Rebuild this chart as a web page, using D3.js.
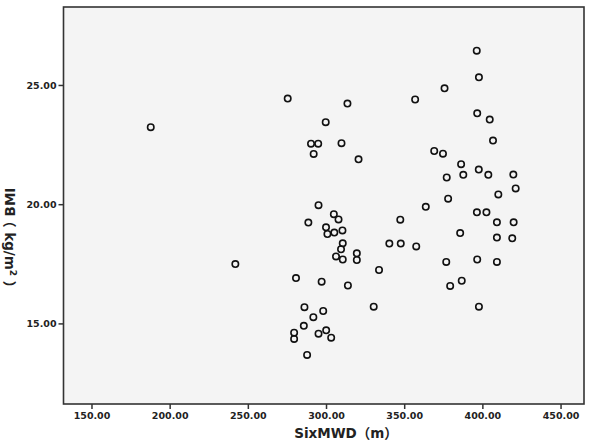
<!DOCTYPE html>
<html lang="en">
<head>
<meta charset="UTF-8">
<title>BMI vs SixMWD</title>
<script src="https://d3js.org/d3.v7.min.js"></script>
<style>
  body { margin: 0; background: #fff; }
  .tick text { font: bold 9.5px "DejaVu Sans", sans-serif; fill: #222; }
  .axis-title { font: bold 13.5px "DejaVu Sans", "Noto Sans CJK SC", sans-serif; fill: #222; }
</style>
</head>
<body>
<svg id="chart" width="602" height="446"></svg>
<script>
// values
var sixMWD = [187.9, 275.5, 313.7, 299.8, 290.4, 295.0, 292.1, 309.9, 396.4, 397.8,
              375.8, 357.0, 396.7, 404.7, 406.8, 320.8, 369.2, 374.8, 386.4, 397.7,
              377.2, 387.8, 403.8, 419.8, 421.3, 410.2, 378.1, 363.8, 347.5, 396.5,
              402.6, 409.3, 420.0, 385.8, 409.3, 419.1, 340.5, 347.8, 357.7, 295.2,
              288.7, 305.0, 308.0, 300.0, 300.9, 305.3, 310.5, 310.7, 309.6, 306.4,
              310.7, 319.7, 319.7, 333.9, 376.9, 396.7, 409.3, 242.0, 280.8, 297.2,
              314.0, 386.8, 379.4, 330.5, 397.8, 286.2, 298.2, 291.9, 285.8, 279.6,
              279.6, 295.2, 300.1, 303.3, 287.9];
var bmi = [23.23, 24.43, 24.22, 23.44, 22.54, 22.54, 22.11, 22.56, 26.44, 25.32,
           24.86, 24.39, 23.81, 23.55, 22.67, 21.88, 22.23, 22.12, 21.68, 21.45,
           21.12, 21.23, 21.23, 21.24, 20.66, 20.41, 20.23, 19.89, 19.35, 19.66,
           19.66, 19.24, 19.24, 18.79, 18.60, 18.57, 18.35, 18.35, 18.23, 19.96,
           19.23, 19.58, 19.36, 19.03, 18.75, 18.81, 18.90, 18.36, 18.11, 17.81,
           17.68, 17.94, 17.66, 17.24, 17.58, 17.68, 17.58, 17.49, 16.90, 16.75,
           16.59, 16.79, 16.57, 15.70, 15.70, 15.68, 15.52, 15.26, 14.90, 14.61,
           14.35, 14.57, 14.71, 14.40, 13.68];
var xTicks = [150, 200, 250, 300, 350, 400, 450];
var yTicks = [15, 20, 25];

var svg = d3.select("#chart");

var x = d3.scaleLinear().domain([132.1, 465.0]).range([63.5, 584]);
var y = d3.scaleLinear().domain([11.62, 28.27]).range([404, 7]);

// plot background + frame
svg.append("rect")
    .attr("x", x.range()[0]).attr("y", y.range()[1])
    .attr("width", x.range()[1] - x.range()[0])
    .attr("height", y.range()[0] - y.range()[1])
    .attr("fill", "#f4f4f4")
    .attr("stroke", "#333")
    .attr("stroke-width", 1.6);

var xAxis = svg.append("g")
    .attr("transform", "translate(0," + y.range()[0] + ")")
    .call(d3.axisBottom(x).tickValues(xTicks).tickFormat(d3.format(".2f")).tickSizeInner(5).tickSizeOuter(0));

var yAxis = svg.append("g")
    .attr("transform", "translate(" + x.range()[0] + ",0)")
    .call(d3.axisLeft(y).tickValues(yTicks).tickFormat(d3.format(".2f")).tickSizeInner(5).tickSizeOuter(0));

[xAxis, yAxis].forEach(function(a) {
    a.select(".domain").remove();
    a.selectAll(".tick line").attr("stroke", "#333").attr("stroke-width", 1.5);
});
yAxis.selectAll(".tick text").attr("x", -7);

// points
svg.append("g").selectAll("circle")
    .data(d3.range(sixMWD.length))
    .enter().append("circle")
    .attr("cx", function(i) { return x(sixMWD[i]); })
    .attr("cy", function(i) { return y(bmi[i]); })
    .attr("r", 3.2)
    .attr("fill", "none")
    .attr("stroke", "#111")
    .attr("stroke-width", 1.6);

// axis titles
svg.append("text")
    .attr("class", "axis-title")
    .attr("x", 346).attr("y", 438)
    .attr("text-anchor", "middle")
    .text("SixMWD（m）");

// y title: "BMI" is turned the other way round in the original
svg.append("text")
    .attr("class", "axis-title")
    .attr("transform", "translate(15,202) rotate(-90)")
    .attr("text-anchor", "middle")
    .text("BMI");

var yt = svg.append("text")
    .attr("class", "axis-title")
    .attr("transform", "translate(5,214) rotate(90)");
yt.append("tspan").text("（ kg/m");
yt.append("tspan").attr("baseline-shift", "super").attr("font-size", "9px").text("2");
yt.append("tspan").text(" ）");
</script>
</body>
</html>
